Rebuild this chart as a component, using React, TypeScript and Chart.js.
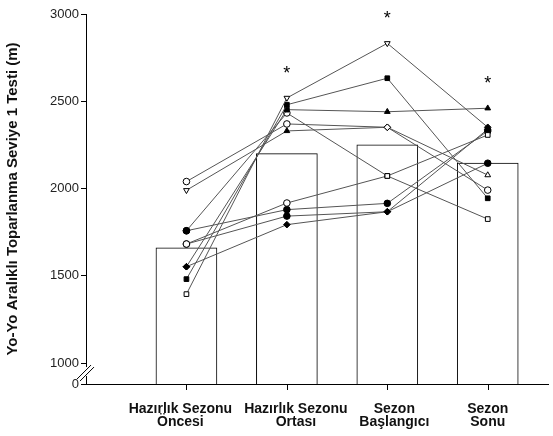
import React, { useEffect, useRef } from 'react';
import { Chart, registerables } from 'chart.js';

Chart.register(...registerables);

// ---- data ----
const categories: string[][] = [
  ['Hazırlık Sezonu', 'Öncesi'],
  ['Hazırlık Sezonu', 'Ortası'],
  ['Sezon', 'Başlangıcı'],
  ['Sezon', 'Sonu'],
];
const meanValues = [1660, 2200, 2250, 2146];
const significance = ['', '*', '*', '*'];
const yTickValues = [1000, 1500, 2000, 2500, 3000];
const axisBreakBase = 880; // shown as "0" below the axis break
const yAxisTitle = 'Yo-Yo Aralıklı Toparlanma Seviye 1 Testi (m)';

// individual players (values) and the marker drawn at each time point
const player1 = [1395, 2519, 2832, 2351];
const player1Markers = ['□', '▽', '▽', '◆'];
const player2 = [1481, 2480, 2632, 1944];
const player2Markers = ['■', '■', '■', '■'];
const player3 = [1552, 2452, 2440, 2460];
const player3Markers = ['◆', '■', '▲', '▲'];
const player4 = [1758, 2433, 2072, 1825];
const player4Markers = ['●', '○', '□', '□'];
const player5 = [2040, 2370, 2351, 1991];
const player5Markers = ['○', '○', '◇', '○'];
const player6 = [1990, 2330, 2351, 2077];
const player6Markers = ['▽', '▲', '◇', '△'];
const player7 = [1682, 1917, 2072, 2307];
const player7Markers = ['○', '○', '□', '□'];
const player8 = [1758, 1879, 1915, 2330];
const player8Markers = ['●', '●', '●', '●'];
const player9 = [1682, 1842, 1867, 2145];
const player9Markers = ['○', '●', '◆', '●'];
const player10 = [1552, 1793, 1867, 2340];
const player10Markers = ['◆', '◆', '◆', '◆'];

const players = [player1, player2, player3, player4, player5, player6, player7, player8, player9, player10];
const playerMarkers = [
  player1Markers, player2Markers, player3Markers, player4Markers, player5Markers,
  player6Markers, player7Markers, player8Markers, player9Markers, player10Markers,
];

// small horizontal shift of each category's label (in category units), as typeset in the original
const labelShift = [-0.06, 0.09, 0.07, 0];

const FONT = '"Liberation Sans", Arial, Helvetica, sans-serif';

function markerStyle(sym: string) {
  switch (sym) {
    case '○': return { style: 'circle', rot: 0, fill: '#ffffff' };
    case '●': return { style: 'circle', rot: 0, fill: '#000000' };
    case '□': return { style: 'rect', rot: 0, fill: '#ffffff' };
    case '■': return { style: 'rect', rot: 0, fill: '#000000' };
    case '△': return { style: 'triangle', rot: 0, fill: '#ffffff' };
    case '▲': return { style: 'triangle', rot: 0, fill: '#000000' };
    case '▽': return { style: 'triangle', rot: 180, fill: '#ffffff' };
    case '◇': return { style: 'rectRot', rot: 0, fill: '#ffffff' };
    case '◆': return { style: 'rectRot', rot: 0, fill: '#000000' };
    default: return { style: 'circle', rot: 0, fill: '#ffffff' };
  }
}

const extrasPlugin = {
  id: 'extras',
  afterDraw(chart: any) {
    const ctx = chart.ctx;
    const ys = chart.scales.y;
    const xs = chart.scales.x;
    const { left, bottom } = chart.chartArea;
    ctx.save();
    // x tick marks at the category positions
    ctx.strokeStyle = '#000';
    ctx.lineWidth = 1;
    ctx.beginPath();
    categories.forEach((_, i) => {
      const x = Math.round(xs.getPixelForValue(i + 1)) + 0.5;
      ctx.moveTo(x, bottom);
      ctx.lineTo(x, bottom + 6);
    });
    ctx.stroke();
    // axis break
    const y1000 = ys.getPixelForValue(1000);
    const c = y1000 + 9;
    ctx.fillStyle = '#ffffff';
    ctx.fillRect(left - 2, c - 5, 4, 9);
    ctx.beginPath();
    ctx.moveTo(left - 9, c + 7);
    ctx.lineTo(left + 5, c - 7);
    ctx.moveTo(left - 6, c + 9);
    ctx.lineTo(left + 8, c - 5);
    ctx.stroke();
    // significance marks
    ctx.fillStyle = '#000';
    ctx.font = `18px ${FONT}`;
    ctx.textAlign = 'center';
    ctx.textBaseline = 'middle';
    significance.forEach((s, i) => {
      if (!s) return;
      const maxV = Math.max(...players.map((p) => p[i]));
      const x = xs.getPixelForValue(i + 1);
      const y = ys.getPixelForValue(maxV) - 24;
      ctx.fillText(s, x, y);
    });
    ctx.restore();
  },
};

export default function App() {
  const ref = useRef<HTMLCanvasElement>(null);
  useEffect(() => {
    if (!ref.current) return;
    const lineSets = players.map((p, k) => {
      const ms = playerMarkers[k].map(markerStyle);
      return {
        type: 'line' as const,
        label: `P${k + 1}`,
        data: p.map((v, i) => ({ x: i + 1, y: v })),
        borderColor: '#555555',
        borderWidth: 1,
        pointStyle: ms.map((m) => m.style),
        pointRotation: ms.map((m) => m.rot),
        pointBackgroundColor: ms.map((m) => m.fill),
        pointBorderColor: '#000000',
        pointBorderWidth: 1,
        pointRadius: 3.3,
        tension: 0,
        order: 0,
      };
    });
    const chart = new Chart(ref.current, {
      type: 'bar',
      data: {
        datasets: [
          {
            type: 'bar' as const,
            label: 'mean',
            data: meanValues.map((v, i) => ({ x: i + 1, y: v })),
            backgroundColor: '#ffffff',
            borderColor: '#000000',
            borderWidth: 1,
            barThickness: 61,
            order: 1,
          },
          ...lineSets,
        ] as any,
      },
      options: {
        responsive: false,
        animation: false,
        devicePixelRatio: 1,
        layout: { padding: { top: 14, right: 0, left: 0, bottom: 0 } },
        plugins: { legend: { display: false }, tooltip: { enabled: false } },
        scales: {
          x: {
            type: 'linear',
            offset: false,
            min: 0,
            max: 4.6,
            afterBuildTicks: (s: any) => {
              s.ticks = categories.map((_, i) => ({ value: i + 1 + labelShift[i] }));
            },
            afterFit: (s: any) => {
              s.height = 52;
            },
            ticks: {
              autoSkip: false,
              maxRotation: 0,
              padding: 18,
              color: '#111',
              font: { family: FONT, size: 14, weight: 'bold', lineHeight: 0.95 },
              callback: (v: any) => categories[Math.round(Number(v)) - 1] ?? '',
            },
            grid: { drawOnChartArea: false, drawTicks: false, tickLength: 6, color: '#000', offset: false },
            border: { display: true, color: '#000', width: 1 },
          },
          y: {
            type: 'linear',
            min: axisBreakBase,
            max: 3000,
            afterBuildTicks: (s: any) => {
              s.ticks = [axisBreakBase, ...yTickValues].map((v) => ({ value: v }));
            },
            afterFit: (s: any) => {
              s.width = 86;
            },
            ticks: {
              autoSkip: false,
              padding: 2,
              color: '#222',
              font: { family: FONT, size: 13 },
              callback: (v: any) => (Number(v) === axisBreakBase ? '0' : String(v)),
            },
            title: {
              display: true,
              text: yAxisTitle,
              color: '#111',
              font: { family: FONT, size: 15, weight: 'bold' },
              padding: { top: 4, bottom: 0 },
            },
            grid: { drawOnChartArea: false, drawTicks: true, tickLength: 5, color: '#000' },
            border: { display: true, color: '#000', width: 1 },
          },
        },
      },
      plugins: [extrasPlugin],
    });
    return () => chart.destroy();
  }, []);
  return (
    <div style={{ position: 'absolute', left: 0, top: 0, width: 553, height: 436, background: '#fff' }}>
      <canvas ref={ref} width={553} height={436} />
    </div>
  );
}
